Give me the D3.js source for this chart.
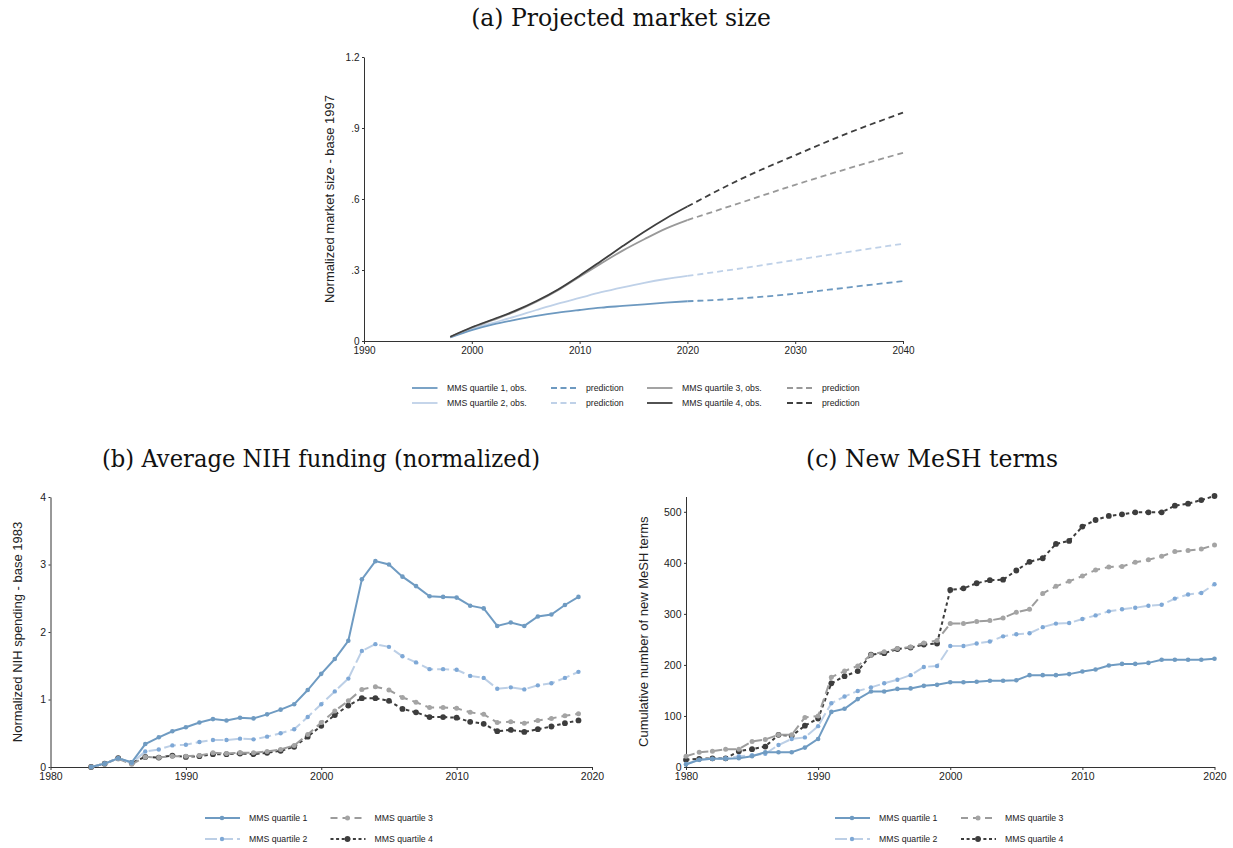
<!DOCTYPE html>
<html>
<head>
<meta charset="utf-8">
<script src="https://cdn.jsdelivr.net/npm/d3@7"></script>
<style>
  html, body { margin: 0; padding: 0; background: #fff; }
  svg { display: block; }
  text { font-family: "Liberation Sans", Arial, sans-serif; fill: #222; }
  .title { font-family: "DejaVu Serif", serif; font-size: 23.5px; fill: #111; }
  .axis path, .axis line { stroke: #333; stroke-width: 1; }
  .axis text { font-size: 10.5px; fill: #222; }
</style>
</head>
<body>
<svg id="chart" width="1233" height="848"></svg>
<script>
// ---------- Panel (a): projected market size ----------
const quartiles = ["MMS quartile 1", "MMS quartile 2", "MMS quartile 3", "MMS quartile 4"];

const projYears = [1998, 2000, 2002, 2004, 2006, 2008, 2010, 2012, 2014, 2016, 2018, 2020];
const projQ1 = [0.015, 0.046, 0.070, 0.089, 0.106, 0.120, 0.131, 0.141, 0.148, 0.155, 0.162, 0.168];
const projQ2 = [0.015, 0.051, 0.077, 0.103, 0.131, 0.158, 0.182, 0.206, 0.227, 0.246, 0.262, 0.275];
const projQ3 = [0.017, 0.056, 0.089, 0.124, 0.166, 0.215, 0.272, 0.328, 0.382, 0.430, 0.475, 0.511];
const projQ4 = [0.018, 0.058, 0.092, 0.127, 0.169, 0.218, 0.276, 0.338, 0.401, 0.462, 0.518, 0.568];

const predYears = [2020, 2025, 2030, 2035, 2040];
const predQ1 = [0.168, 0.180, 0.200, 0.227, 0.253];
const predQ2 = [0.275, 0.307, 0.342, 0.377, 0.411];
const predQ3 = [0.511, 0.585, 0.660, 0.730, 0.795];
const predQ4 = [0.568, 0.685, 0.785, 0.880, 0.965];

const aXTicks = [1990, 2000, 2010, 2020, 2030, 2040];
const aYTicks = [0, 0.3, 0.6, 0.9, 1.2];
const aYLabels = ["0", ".3", ".6", ".9", "1.2"];

// ---------- Panel (b): average NIH funding ----------
const nihYears = d3.range(1983, 2020);
const nihQ1 = [0, 0.05, 0.13, 0.07, 0.34, 0.44, 0.53, 0.59, 0.66, 0.71, 0.69, 0.73, 0.72, 0.78, 0.85, 0.93, 1.14, 1.38, 1.60, 1.87, 2.78, 3.05, 3.00, 2.82, 2.68, 2.53, 2.52, 2.51, 2.39, 2.35, 2.09, 2.14, 2.09, 2.23, 2.26, 2.40, 2.52];
const nihQ2 = [0, 0.05, 0.13, 0.06, 0.23, 0.26, 0.32, 0.33, 0.37, 0.40, 0.40, 0.42, 0.41, 0.45, 0.50, 0.56, 0.74, 0.93, 1.12, 1.31, 1.72, 1.82, 1.78, 1.64, 1.55, 1.45, 1.45, 1.44, 1.35, 1.32, 1.16, 1.18, 1.15, 1.21, 1.24, 1.32, 1.41];
const nihQ3 = [0, 0.05, 0.12, 0.04, 0.15, 0.14, 0.16, 0.16, 0.17, 0.21, 0.20, 0.21, 0.21, 0.23, 0.26, 0.32, 0.48, 0.66, 0.83, 0.98, 1.15, 1.19, 1.14, 1.03, 0.96, 0.88, 0.88, 0.87, 0.81, 0.78, 0.66, 0.67, 0.65, 0.69, 0.72, 0.76, 0.79];
const nihQ4 = [0, 0.05, 0.13, 0.06, 0.15, 0.14, 0.17, 0.15, 0.16, 0.19, 0.19, 0.20, 0.19, 0.21, 0.24, 0.30, 0.45, 0.61, 0.77, 0.91, 1.02, 1.02, 0.98, 0.86, 0.81, 0.74, 0.74, 0.73, 0.67, 0.64, 0.53, 0.55, 0.52, 0.56, 0.60, 0.65, 0.69];
const bXTicks = [1980, 1990, 2000, 2010, 2020];
const bYTicks = [0, 1, 2, 3, 4];

// ---------- Panel (c): cumulative new MeSH terms ----------
const meshYears = d3.range(1980, 2021);
const meshQ1 = [5, 14, 16, 16, 17, 21, 29, 29, 29, 38, 55, 108, 114, 133, 148, 148, 153, 154, 159, 161, 166, 166, 167, 169, 169, 170, 180, 180, 180, 182, 187, 191, 199, 202, 202, 204, 210, 210, 210, 210, 212];
const meshQ2 = [6, 14, 16, 17, 21, 23, 26, 43, 55, 58, 80, 125, 138, 149, 156, 164, 171, 180, 196, 198, 237, 237, 242, 246, 256, 260, 262, 274, 281, 282, 290, 297, 305, 309, 312, 316, 318, 330, 338, 341, 358];
const meshQ3 = [21, 29, 31, 35, 35, 50, 54, 63, 63, 97, 100, 176, 188, 198, 220, 226, 232, 235, 243, 248, 281, 281, 285, 287, 292, 303, 309, 340, 354, 364, 374, 386, 392, 393, 401, 406, 413, 422, 424, 427, 435];
const meshQ4 = [14, 16, 17, 17, 31, 35, 40, 63, 61, 81, 95, 164, 178, 188, 220, 223, 231, 234, 240, 242, 347, 350, 360, 366, 367, 385, 402, 409, 437, 443, 471, 484, 492, 495, 499, 499, 499, 512, 516, 523, 531];
const cXTicks = [1980, 1990, 2000, 2010, 2020];
const cYTicks = [0, 100, 200, 300, 400, 500];

// Shared series styling
const lineColors = ["#6f9bc2", "#bccfe6", "#9c9c9c", "#3d3d3d"];
const markerColors = ["#6f9bc2", "#7ea8d6", "#a4a4a4", "#3d3d3d"];
const dashes = [null, "12,4", "9,5", "3.5,3"];
const markerR = [2.3, 2.2, 2.5, 2.9];

const svg = d3.select("#chart");

function zip(xs, ys) { return xs.map((x, i) => ({ x: x, y: ys[i] })); }

function drawAxes(g, x, y, xTicks, yTicks, yFmt, label, labelX, fontSize) {
  const [x0, x1] = x.range();
  const [y0, y1] = y.range();
  g.append("g").attr("class", "axis")
    .attr("transform", `translate(0,${y0})`)
    .call(d3.axisBottom(x).tickValues(xTicks).tickFormat(d3.format("d")).tickSize(3).tickSizeOuter(0).tickPadding(3))
    .selectAll("text").style("font-size", fontSize + "px");
  g.append("g").attr("class", "axis")
    .attr("transform", `translate(${x0},0)`)
    .call(d3.axisLeft(y).tickValues(yTicks).tickFormat(yFmt).tickSize(2).tickSizeOuter(0).tickPadding(2.5))
    .selectAll("text").style("font-size", fontSize + "px");
  g.append("text")
    .attr("transform", `translate(${labelX},${(y0 + y1) / 2}) rotate(-90)`)
    .attr("text-anchor", "middle")
    .style("font-size", "13px")
    .text(label);
}

// ---------- Panel (a) ----------
{
  const g = svg.append("g");
  const x = d3.scaleLinear().domain([1990, 2040]).range([364, 903]);
  const y = d3.scaleLinear().domain([0, 1.2]).range([341, 57]);
  drawAxes(g, x, y, aXTicks, aYTicks, (d, i) => aYLabels[i], "Normalized market size - base 1997", 334, 10);

  const line = d3.line().x(d => x(d.x)).y(d => y(d.y)).curve(d3.curveMonotoneX);
  const obs = [projQ1, projQ2, projQ3, projQ4];
  const pred = [predQ1, predQ2, predQ3, predQ4];
  const aColors = ["#6d99c0", "#bfd1e8", "#999999", "#3f3f3f"];
  [1, 0, 2, 3].forEach(i => {
    g.append("path").datum(zip(predYears, pred[i]))
      .attr("d", line).attr("fill", "none")
      .attr("stroke", aColors[i]).attr("stroke-width", 1.8)
      .attr("stroke-dasharray", "6,4");
  });
  [1, 0, 2, 3].forEach(i => {
    g.append("path").datum(zip(projYears, obs[i]))
      .attr("d", line).attr("fill", "none")
      .attr("stroke", aColors[i]).attr("stroke-width", 1.8);
  });

  g.append("text").attr("class", "title").attr("x", 621).attr("y", 26)
    .attr("text-anchor", "middle").text("(a) Projected market size");

  // legend: observed and predicted entries in four columns, two rows
  const legendItems = [
    { col: 0, row: 0, q: 0, dash: null, text: "MMS quartile 1, obs." },
    { col: 1, row: 0, q: 0, dash: "6,3.5", text: "prediction" },
    { col: 2, row: 0, q: 2, dash: null, text: "MMS quartile 3, obs." },
    { col: 3, row: 0, q: 2, dash: "6,3.5", text: "prediction" },
    { col: 0, row: 1, q: 1, dash: null, text: "MMS quartile 2, obs." },
    { col: 1, row: 1, q: 1, dash: "6,3.5", text: "prediction" },
    { col: 2, row: 1, q: 3, dash: null, text: "MMS quartile 4, obs." },
    { col: 3, row: 1, q: 3, dash: "6,3.5", text: "prediction" }
  ];
  const colX = [412, 551, 647, 787];
  const rowY = [388, 403];
  legendItems.forEach(it => {
    const lx = colX[it.col], ly = rowY[it.row];
    g.append("line").attr("x1", lx).attr("x2", lx + 25.5).attr("y1", ly).attr("y2", ly)
      .attr("stroke", aColors[it.q]).attr("stroke-width", 1.8)
      .attr("stroke-dasharray", it.dash);
    g.append("text").attr("x", lx + 35).attr("y", ly + 3)
      .style("font-size", "8.7px").text(it.text);
  });
}

// ---------- Panels (b) and (c) ----------
function markerPanel(cfg) {
  const g = svg.append("g");
  const x = d3.scaleLinear().domain([1980, 2020]).range(cfg.xRange);
  const y = d3.scaleLinear().domain(cfg.yDomain).range(cfg.yRange);
  drawAxes(g, x, y, cfg.xTicks, cfg.yTicks, d3.format("d"), cfg.yLabel, cfg.labelX, 10.5);

  const line = d3.line().x(d => x(d.x)).y(d => y(d.y));
  [3, 2, 1, 0].forEach(i => {
    const pts = zip(cfg.years, cfg.series[i]);
    g.append("path").datum(pts).attr("d", line).attr("fill", "none")
      .attr("stroke", lineColors[i]).attr("stroke-width", 2)
      .attr("stroke-dasharray", dashes[i]);
    g.selectAll(null).data(pts).enter().append("circle")
      .attr("cx", d => x(d.x)).attr("cy", d => y(d.y)).attr("r", markerR[i])
      .attr("fill", markerColors[i]);
  });

  const t = g.append("text").attr("class", "title").attr("x", cfg.titleX).attr("y", 467)
    .attr("text-anchor", "middle").text(cfg.title);
  if (cfg.titleWidth) t.attr("textLength", cfg.titleWidth).attr("lengthAdjust", "spacingAndGlyphs");

  // legend: two columns of two rows, line with a marker in the middle
  const order = [0, 2, 1, 3];
  order.forEach((q, k) => {
    const col = k % 2, row = Math.floor(k / 2);
    const lx = cfg.legendX[col], ly = [818, 839][row];
    g.append("line").attr("x1", lx).attr("x2", lx + 35).attr("y1", ly).attr("y2", ly)
      .attr("stroke", lineColors[q]).attr("stroke-width", 1.8)
      .attr("stroke-dasharray", dashes[q] ? (q === 3 ? "3,2.6" : (q === 1 ? "12,4" : "7,5")) : null);
    g.append("circle").attr("cx", lx + 17).attr("cy", ly).attr("r", markerR[q])
      .attr("fill", markerColors[q]);
    g.append("text").attr("x", lx + 44).attr("y", ly + 3)
      .style("font-size", "8.7px").text(quartiles[q]);
  });
}

markerPanel({
  xRange: [50.5, 592], yDomain: [0, 4], yRange: [767, 497],
  xTicks: bXTicks, yTicks: bYTicks, years: nihYears,
  series: [nihQ1, nihQ2, nihQ3, nihQ4],
  yLabel: "Normalized NIH spending - base 1983", labelX: 22,
  title: "(b) Average NIH funding (normalized)", titleX: 321, titleWidth: 438,
  legendX: [205, 330.5]
});

markerPanel({
  xRange: [686, 1214.5], yDomain: [0, 530], yRange: [767, 496.5],
  xTicks: cXTicks, yTicks: cYTicks, years: meshYears,
  series: [meshQ1, meshQ2, meshQ3, meshQ4],
  yLabel: "Cumulative number of new MeSH terms", labelX: 648,
  title: "(c) New MeSH terms", titleX: 932,
  legendX: [835, 961]
});
</script>
</body>
</html>
